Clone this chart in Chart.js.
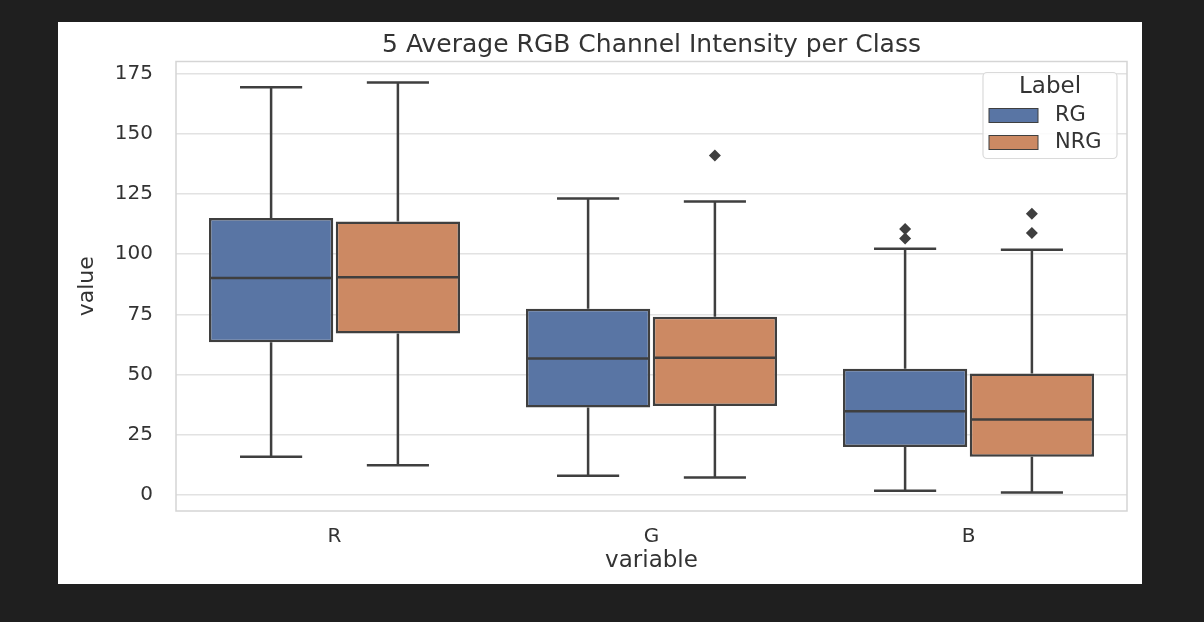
<!DOCTYPE html>
<html>
<head>
<meta charset="utf-8">
<script src="https://cdn.jsdelivr.net/npm/chart.js@4.4.1/dist/chart.umd.min.js"></script>
<style>
  html, body { margin: 0; padding: 0; background: #1f1f1f; }
  body { width: 1204px; height: 622px; position: relative; overflow: hidden; }
  #panel { position: absolute; left: 58px; top: 22px; width: 1084px; height: 562px; background: #ffffff; }
</style>
</head>
<body>
<div id="panel"><canvas id="boxChart" width="1084" height="562"></canvas></div>
<script>
// categories and groups
const categories = ['R', 'G', 'B'];
const groupLabels = ['RG', 'NRG'];

// RG box stats per channel
const rgLow = [15.9, 8.0, 1.8];
const rgQ1 = [63.5, 36.4, 20.0];
const rgMedian = [90.1, 56.7, 34.8];
const rgQ3 = [115.0, 77.4, 52.5];
const rgHigh = [169.3, 123.1, 102.3];
const rgOutliers = [[], [], [110.5, 106.5]];

// NRG box stats per channel
const nrgLow = [12.4, 7.3, 1.1];
const nrgQ1 = [67.1, 37.0, 15.9];
const nrgMedian = [90.4, 57.0, 31.4];
const nrgQ3 = [113.6, 74.0, 50.5];
const nrgHigh = [171.3, 121.9, 101.9];
const nrgOutliers = [[], [141.0], [116.8, 108.8]];

const yTicks = [0, 25, 50, 75, 100, 125, 150, 175];

const boxColors = ['#5975a4', '#cc8963'];
const lineColor = '#3f3f3f';
const textColor = '#333333';
const fontFamily = "'DejaVu Sans', sans-serif";

const stats = [
    { low: rgLow, med: rgMedian, high: rgHigh, out: rgOutliers },
    { low: nrgLow, med: nrgMedian, high: nrgHigh, out: nrgOutliers }
];

// whiskers, caps, medians and outlier diamonds on top of the floating bars
const boxPlotExtras = {
    id: 'boxPlotExtras',
    beforeDatasetsDraw(chart) {
        const { ctx, chartArea } = chart;
        ctx.save();
        ctx.strokeStyle = '#d5d5d5';
        ctx.lineWidth = 1.5;
        ctx.strokeRect(chartArea.left, chartArea.top, chartArea.right - chartArea.left, chartArea.bottom - chartArea.top);
        ctx.restore();
    },
    afterDatasetsDraw(chart) {
        const { ctx } = chart;
        const y = chart.scales.y;
        ctx.save();
        ctx.strokeStyle = lineColor;
        ctx.fillStyle = lineColor;
        ctx.lineWidth = 2.5;
        stats.forEach((s, di) => {
            const meta = chart.getDatasetMeta(di);
            meta.data.forEach((bar, i) => {
                const x = bar.x;
                const half = bar.width / 2;
                const cap = bar.width / 4;
                const q1 = Math.max(bar.y, bar.base);
                const q3 = Math.min(bar.y, bar.base);
                const lo = y.getPixelForValue(s.low[i]);
                const hi = y.getPixelForValue(s.high[i]);
                const md = y.getPixelForValue(s.med[i]);
                ctx.beginPath();
                ctx.moveTo(x, q3); ctx.lineTo(x, hi);
                ctx.moveTo(x - cap, hi); ctx.lineTo(x + cap, hi);
                ctx.moveTo(x, q1); ctx.lineTo(x, lo);
                ctx.moveTo(x - cap, lo); ctx.lineTo(x + cap, lo);
                ctx.moveTo(x - half + 1, md); ctx.lineTo(x + half - 1, md);
                ctx.stroke();
                s.out[i].forEach(v => {
                    const py = y.getPixelForValue(v);
                    const r = 6;
                    ctx.beginPath();
                    ctx.moveTo(x, py - r);
                    ctx.lineTo(x + r, py);
                    ctx.lineTo(x, py + r);
                    ctx.lineTo(x - r, py);
                    ctx.closePath();
                    ctx.fill();
                });
            });
        });
        ctx.restore();
    },
    afterDraw(chart) {
        // legend box in the top right corner of the plot
        const { ctx, chartArea } = chart;
        const w = 134, h = 86;
        const left = chartArea.right - 10 - w;
        const top = chartArea.top + 11;
        ctx.save();
        ctx.beginPath();
        ctx.roundRect(left, top, w, h, 4);
        ctx.fillStyle = 'rgba(255,255,255,0.85)';
        ctx.fill();
        ctx.strokeStyle = '#dadada';
        ctx.lineWidth = 1.2;
        ctx.stroke();
        ctx.fillStyle = textColor;
        ctx.textBaseline = 'middle';
        ctx.textAlign = 'center';
        ctx.font = '23px ' + fontFamily;
        ctx.fillText('Label', left + w / 2, top + 15);
        ctx.textAlign = 'left';
        ctx.font = '21px ' + fontFamily;
        chart.data.datasets.forEach((ds, i) => {
            const cy = top + 43 + i * 27;
            ctx.fillStyle = ds.backgroundColor;
            ctx.fillRect(left + 6, cy - 7, 49, 14);
            ctx.strokeStyle = lineColor;
            ctx.lineWidth = 1;
            ctx.strokeRect(left + 6, cy - 7, 49, 14);
            ctx.fillStyle = textColor;
            ctx.fillText(ds.label, left + 72, cy);
        });
        ctx.restore();
    }
};

const ctx = document.getElementById('boxChart').getContext('2d');

const boxChart = new Chart(ctx, {
    type: 'bar',
    data: {
        labels: categories,
        datasets: [{
            label: groupLabels[0],
            data: categories.map((_, i) => [rgQ1[i], rgQ3[i]]),
            backgroundColor: boxColors[0],
            borderColor: lineColor,
            borderWidth: 2.5,
            borderSkipped: false
        }, {
            label: groupLabels[1],
            data: categories.map((_, i) => [nrgQ1[i], nrgQ3[i]]),
            backgroundColor: boxColors[1],
            borderColor: lineColor,
            borderWidth: 2.5,
            borderSkipped: false
        }]
    },
    options: {
        responsive: false,
        animation: false,
        categoryPercentage: 0.8,
        barPercentage: 0.98,
        layout: {
            padding: { left: 0, top: 0, right: 15, bottom: 0 }
        },
        scales: {
            x: {
                grid: { display: false, drawTicks: false },
                border: { display: false },
                ticks: {
                    color: textColor,
                    padding: 14,
                    font: { family: fontFamily, size: 20 }
                },
                title: {
                    display: true,
                    text: 'variable',
                    color: textColor,
                    padding: { top: 0, bottom: 9 },
                    font: { family: fontFamily, size: 23 }
                },
                afterFit(scale) { scale.height = 73; }
            },
            y: {
                min: -6.6,
                max: 180,
                grid: { color: '#e2e2e2', lineWidth: 1.5, drawTicks: false },
                border: { display: false },
                afterBuildTicks(scale) {
                    scale.ticks = yTicks.map(v => ({ value: v }));
                },
                ticks: {
                    color: textColor,
                    padding: 23,
                    font: { family: fontFamily, size: 20 }
                },
                title: {
                    display: true,
                    text: 'value',
                    color: textColor,
                    padding: { top: 16, bottom: 0 },
                    font: { family: fontFamily, size: 22 }
                },
                afterFit(scale) { scale.width = 118; }
            }
        },
        plugins: {
            legend: { display: false },
            tooltip: { enabled: false },
            title: {
                display: true,
                fullSize: false,
                text: '5 Average RGB Channel Intensity per Class',
                color: textColor,
                padding: { top: 8, bottom: 1.5 },
                font: { family: fontFamily, size: 25, weight: 'normal' }
            }
        }
    },
    plugins: [boxPlotExtras]
});
</script>
</body>
</html>
